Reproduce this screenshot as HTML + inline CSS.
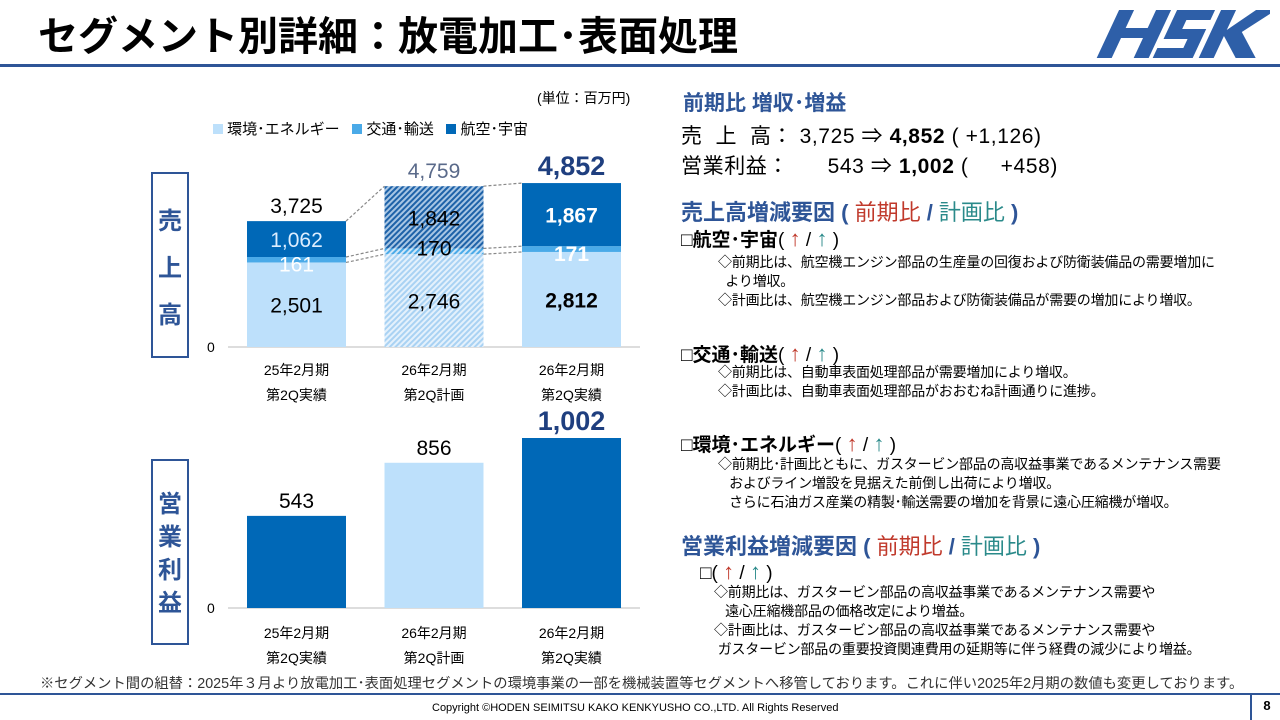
<!DOCTYPE html>
<html><head><meta charset="utf-8">
<style>
body{margin:0;width:1280px;height:720px;position:relative;background:#fff;font-family:"Liberation Sans","Noto Sans CJK JP",sans-serif;overflow:hidden;color:#000}
.a{position:absolute;white-space:nowrap}
.h{color:#2e5597;font-weight:bold}
.r{color:#c0392b}.t{color:#2a8a8a}
.s{font-size:14px;line-height:19px;letter-spacing:-0.2px}
.ar{font-size:22px}
</style></head><body>
<div class="a" style="left:38px;top:4px;font-size:40px;font-weight:bold;letter-spacing:0px">セグメント別詳細：放電加工･表面処理</div>
<svg class="a" style="left:1092px;top:8px" width="178" height="52" viewBox="0 0 178 52">
<g fill="#2e5fa8" transform="skewX(-25) translate(22,0)"><path d="M6 2h15v18h22V2h15v48H43V30H21v20H6z"/><path d="M64 2h38v10H78v9h24v29H62V40h26v-9H64z"/><path d="M108 2h15v20l20-20h20l-24 22 26 26h-20l-22-22v22h-15z"/></g></svg>
<div class="a" style="left:0;top:64px;width:1280px;height:3px;background:#2e5597"></div>

<div class="a" style="left:537px;top:88px;font-size:14px">(単位：百万円)</div>
<div class="a" style="left:213px;top:118px;font-size:15px">
<span style="display:inline-block;width:10px;height:10px;background:#bde0fb"></span> 環境･エネルギー&nbsp;&nbsp;
<span style="display:inline-block;width:10px;height:10px;background:#4aaae8"></span> 交通･輸送&nbsp;&nbsp;
<span style="display:inline-block;width:10px;height:10px;background:#0068b7"></span> 航空･宇宙</div>

<div class="a" style="left:151px;top:172px;width:38px;height:186px;border:2px solid #2e5597;box-sizing:border-box;color:#2e5597;font-weight:bold;font-size:24px;text-align:center;line-height:47px;padding-top:24px;white-space:normal">売<br>上<br>高</div>
<div class="a" style="left:151px;top:459px;width:38px;height:186px;border:2px solid #2e5597;box-sizing:border-box;color:#2e5597;font-weight:bold;font-size:24px;text-align:center;line-height:33px;padding-top:27px;white-space:normal">営<br>業<br>利<br>益</div>

<svg class="a" id="chart" style="left:0;top:0" width="680" height="690">
<defs>
<pattern id="pl" width="4" height="4" patternUnits="userSpaceOnUse" patternTransform="rotate(45)"><rect width="4" height="4" fill="#e4f1fc"/><rect width="2" height="4" fill="#a9d2f3"/></pattern>
<pattern id="pd" width="4" height="4" patternUnits="userSpaceOnUse" patternTransform="rotate(45)"><rect width="4" height="4" fill="#a8c6e4"/><rect width="2" height="4" fill="#1e62a8"/></pattern>
<pattern id="pm" width="4" height="4" patternUnits="userSpaceOnUse" patternTransform="rotate(45)"><rect width="4" height="4" fill="#cfe6f8"/><rect width="2" height="4" fill="#4aaae8"/></pattern>
</defs>
</svg>

<div class="a" style="left:683px;top:87px;font-size:21px" ><span class="h">前期比 増収･増益</span></div>
<div class="a" style="left:681px;top:120px;font-size:21px;letter-spacing:0.6px">売&nbsp;&nbsp;上&nbsp;&nbsp;高：&nbsp;3,725 ⇒ <b>4,852</b> ( +1,126)</div>
<div class="a" style="left:681px;top:150px;font-size:21px;letter-spacing:0.6px">営業利益：&nbsp;&nbsp;&nbsp;&nbsp;&nbsp;&nbsp;543 ⇒ <b>1,002</b> (&nbsp;&nbsp;&nbsp;&nbsp;&nbsp;+458)</div>
<div class="a h" style="left:681px;top:195px;font-size:22px">売上高増減要因 ( <span class="r" style="font-weight:normal">前期比</span> / <span class="t" style="font-weight:normal">計画比</span> )</div>

<div class="a" style="left:681px;top:225px;font-size:19px"><b>□航空･宇宙</b>( <span class="r ar">↑</span> / <span class="t ar">↑</span> )</div>
<div class="a s" style="left:718px;top:253px">◇前期比は、航空機エンジン部品の生産量の回復および防衛装備品の需要増加に<br>&nbsp;&nbsp;より増収。<br>◇計画比は、航空機エンジン部品および防衛装備品が需要の増加により増収。</div>

<div class="a" style="left:681px;top:340px;font-size:19px"><b>□交通･輸送</b>( <span class="r ar">↑</span> / <span class="t ar">↑</span> )</div>
<div class="a s" style="left:718px;top:363px">◇前期比は、自動車表面処理部品が需要増加により増収。<br>◇計画比は、自動車表面処理部品がおおむね計画通りに進捗。</div>

<div class="a" style="left:681px;top:430px;font-size:19px"><b>□環境･エネルギー</b>( <span class="r ar">↑</span> / <span class="t ar">↑</span> )</div>
<div class="a s" style="left:718px;top:455px">◇前期比･計画比ともに、ガスタービン部品の高収益事業であるメンテナンス需要<br>&nbsp;&nbsp;&nbsp;およびライン増設を見据えた前倒し出荷により増収。<br>&nbsp;&nbsp;&nbsp;さらに石油ガス産業の精製･輸送需要の増加を背景に遠心圧縮機が増収。</div>

<div class="a h" style="left:681px;top:529px;font-size:22px">営業利益増減要因 ( <span class="r" style="font-weight:normal">前期比</span> / <span class="t" style="font-weight:normal">計画比</span> )</div>
<div class="a" style="left:700px;top:559px;font-size:19px">□( <span class="r ar">↑</span> / <span class="t ar">↑</span> )</div>
<div class="a s" style="left:714px;top:583px">◇前期比は、ガスタービン部品の高収益事業であるメンテナンス需要や<br>&nbsp;&nbsp;&nbsp;遠心圧縮機部品の価格改定により増益。<br>◇計画比は、ガスタービン部品の高収益事業であるメンテナンス需要や<br>&nbsp;ガスタービン部品の重要投資関連費用の延期等に伴う経費の減少により増益。</div>

<div class="a" style="left:40px;top:672px;font-size:14.3px;color:#333">※セグメント間の組替：2025年３月より放電加工･表面処理セグメントの環境事業の一部を機械装置等セグメントへ移管しております。これに伴い2025年2月期の数値も変更しております。</div>
<div class="a" style="left:0;top:693px;width:1280px;height:2px;background:#2e5597"></div>
<div class="a" style="left:432px;top:702px;font-size:11px">Copyright ©HODEN SEIMITSU KAKO KENKYUSHO CO.,LTD. All Rights Reserved</div>
<div class="a" style="left:1250px;top:695px;width:30px;height:25px;border-left:2px solid #2e5597;font-size:13px;font-weight:bold;text-align:center;line-height:22px">8</div>

<script>
const categories=["25年2月期|第2Q実績","26年2月期|第2Q計画","26年2月期|第2Q実績"];
const energy=[2501,2746,2812];
const transport=[161,170,171];
const aero=[1062,1842,1867];
const salesTotals=[3725,4759,4852];
const profit=[543,856,1002];

const svg=document.getElementById('chart');
const NS='http://www.w3.org/2000/svg';
function mk(tag,at,txt){const e=document.createElementNS(NS,tag);for(const k in at)e.setAttribute(k,at[k]);if(txt!==undefined)e.textContent=txt;svg.appendChild(e);return e;}
const barX=i=>247+i*137.5, BW=99;
const sBase=347, sK=164/4852;
const ys=v=>sBase-v*sK;
const pBase=608, pK=170/1002;
const yp=v=>pBase-v*pK;

let r=mk('line',{x1:228,y1:sBase,x2:640,y2:sBase,stroke:'#bbb','stroke-width':1});


let t=mk('text',{x:207,y:sBase+5,'font-size':14},'0');


const fills=[["#bde0fb","#4aaae8","#0068b7"],["url(#pl)","url(#pm)","url(#pd)"],["#bde0fb","#4aaae8","#0068b7"]];
const segTops=[];
for(let i=0;i<3;i++){
  const vals=[energy[i],transport[i],aero[i]];
  let cum=0;const tops=[];
  const names=['energy','transport','aero'];
  for(let j=0;j<3;j++){
    const y0=ys(cum),y1=ys(cum+vals[j]);
    const b=mk('rect',{x:barX(i),y:y1,width:BW,height:y0-y1,fill:fills[i][j]});
    
    
    tops.push(y1);cum+=vals[j];
  }
  segTops.push(tops);
  const cx=barX(i)+BW/2;
  const lblColor=[["#000","#fff","#ddeeff"],["#000","#000","#000"],["#000","#fff","#fff"]][i];
  const bold=i==2?'bold':'normal';
  const ly=[ys(energy[i]/2)+8, ys(energy[i]+transport[i]/2)+ (i==1?4:12), ys(energy[i]+transport[i]+aero[i]/2)+8];
  for(let j=0;j<3;j++){
    const tx=mk('text',{x:cx,y:ly[j],'font-size':21,'text-anchor':'middle',fill:lblColor[j],'font-weight':bold},vals[j].toLocaleString('en-US'));
    
    
  }
  const tc=[ '#000','#5a6a8a','#1f3f7f'][i];
  const tt=mk('text',{x:cx,y:ys(salesTotals[i])-8,'font-size':i==2?27:21,'font-weight':i==2?'bold':'normal','text-anchor':'middle',fill:tc},salesTotals[i].toLocaleString('en-US'));
  
  
  const parts=categories[i].split('|');
  [sBase+28,sBase+53].forEach((y,k)=>{const c=mk('text',{x:cx,y:y,'font-size':14,'text-anchor':'middle'},parts[k]);
    
    });
}
for(let i=0;i<2;i++){
  for(const j of [1,2]){
    const yA=j==1?segTops[i][0]:segTops[i][2], yB=j==1?segTops[i+1][0]:segTops[i+1][2];
    const yA2=j==1?segTops[i][1]:null;
    const l=mk('line',{x1:barX(i)+BW,y1:yA,x2:barX(i+1),y2:yB,stroke:'#888','stroke-dasharray':'3,2','stroke-width':1.2});
    
    
    if(j==1){const l2=mk('line',{x1:barX(i)+BW,y1:yA2,x2:barX(i+1),y2:segTops[i+1][1],stroke:'#888','stroke-dasharray':'3,2','stroke-width':1.2});
      
      }
  }
}
r=mk('line',{x1:228,y1:pBase,x2:640,y2:pBase,stroke:'#bbb','stroke-width':1});


t=mk('text',{x:207,y:pBase+5,'font-size':14},'0');


const pf=['#0068b7','#bde0fb','#0068b7'];
for(let i=0;i<3;i++){
  const cx=barX(i)+BW/2;
  const b=mk('rect',{x:barX(i),y:yp(profit[i]),width:BW,height:pBase-yp(profit[i]),fill:pf[i]});
  
  
  const tt=mk('text',{x:cx,y:yp(profit[i])-8,'font-size':i==2?27:21,'font-weight':i==2?'bold':'normal','text-anchor':'middle',fill:i==2?'#1f3f7f':'#000'},profit[i].toLocaleString('en-US'));
  
  
  const parts=categories[i].split('|');
  [pBase+30,pBase+55].forEach((y,k)=>{const c=mk('text',{x:cx,y:y,'font-size':14,'text-anchor':'middle'},parts[k]);
    
    });
}
</script>
</body></html>
